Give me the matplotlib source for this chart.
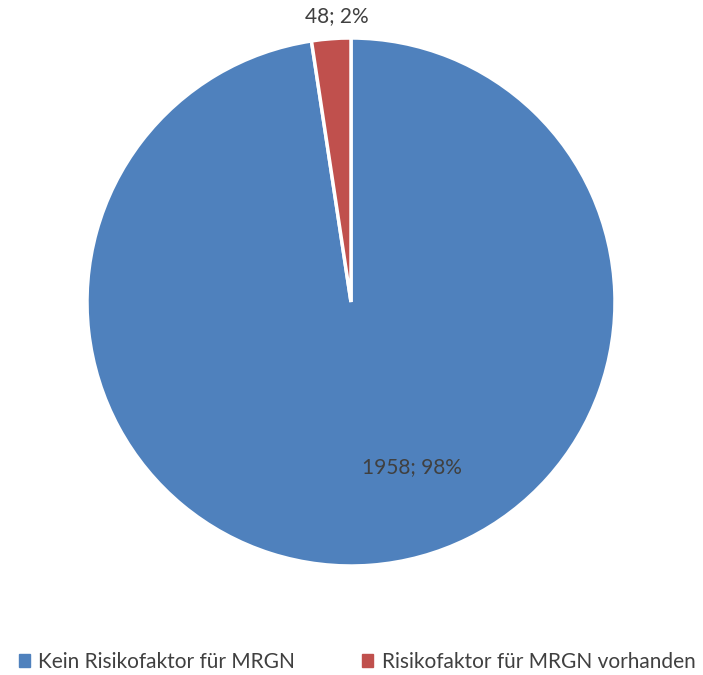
import matplotlib.pyplot as plt

categories = ['Kein Risikofaktor für MRGN', 'Risikofaktor für MRGN vorhanden']
counts = [1958, 48]
colors = ['#4F81BD', '#C0504D']

plt.rcParams['font.family'] = ['Lato', 'DejaVu Sans']
text_color = '#404040'

fig = plt.figure(figsize=(7.03, 6.75), dpi=100)
# pie area: centre at (351, 302) px, radius 264 px
ax = fig.add_axes([(351 - 264) / 703, (675 - 302 - 264) / 675, 528 / 703, 528 / 675])

wedges, _ = ax.pie(counts, colors=colors, startangle=90, counterclock=False,
                   radius=1.0, wedgeprops=dict(edgecolor='white', linewidth=2.5))
ax.set_xlim(-1, 1)
ax.set_ylim(-1, 1)
ax.set_aspect('equal')
ax.axis('off')

total = sum(counts)
labels = ['%d; %d%%' % (c, round(c / total * 100)) for c in counts]
label_pos = [(0.232, -0.627), (-0.053, 1.084)]
for lab, (x, y) in zip(labels, label_pos):
    ax.text(x, y, lab, ha='center', va='center', fontsize=15, color=text_color,
            clip_on=False)

handles = [plt.Rectangle((0, 0), 1, 1, color=c) for c in colors]
fig.legend(handles, categories, loc='center', bbox_to_anchor=(0.508, 1 - 662 / 675),
           ncol=2, frameon=False, fontsize=15, labelcolor=text_color,
           handlelength=0.55, handleheight=0.55, handletextpad=0.4, columnspacing=3.2)

fig.savefig('out.png', dpi=100)
